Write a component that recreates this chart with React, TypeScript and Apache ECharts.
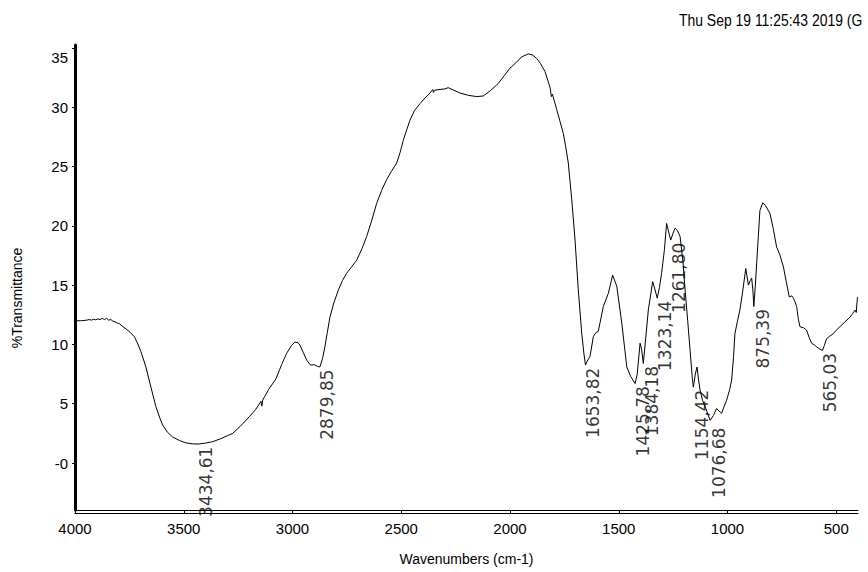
import React, { useEffect, useRef } from "react";
import * as echarts from "echarts";

// Spectrum trace (wavenumber, %T)
const wavenumbers = [
  4000, 3970, 3945, 3935, 3925, 3915, 3905, 3895, 3885, 3875, 3865, 3855, 3845, 3835, 3825, 3815, 3805,
  3796, 3780, 3765, 3745, 3727, 3715, 3697, 3674, 3651, 3628, 3610, 3597, 3575, 3551, 3520, 3490, 3460,
  3434, 3400, 3367, 3330, 3300, 3275, 3240, 3199, 3170, 3145, 3141, 3137, 3110, 3076, 3050, 3027, 3005,
  2989, 2975, 2966, 2950, 2935, 2920, 2912, 2900, 2885, 2874, 2862, 2851, 2840, 2828, 2810, 2789, 2770,
  2751, 2730, 2705, 2680, 2659, 2635, 2613, 2590, 2567, 2545, 2521, 2505, 2491, 2475, 2460, 2440, 2414,
  2390, 2368, 2355, 2352, 2345, 2322, 2300, 2284, 2260, 2230, 2190, 2153, 2123, 2090, 2054, 2025, 2000,
  1970, 1946, 1916, 1895, 1877, 1860, 1839, 1825, 1815, 1810, 1805, 1785, 1770, 1755, 1745, 1732, 1716,
  1701, 1686, 1670, 1660, 1653, 1645, 1632, 1617, 1605, 1594, 1571, 1548, 1528, 1509, 1486, 1463, 1445,
  1425, 1415, 1410, 1402, 1395, 1387, 1364, 1344, 1333, 1323, 1313, 1303, 1290, 1280, 1272, 1261, 1250,
  1241, 1230, 1218, 1205, 1195, 1183, 1172, 1162, 1157, 1148, 1140, 1133, 1126, 1115, 1103, 1090, 1080,
  1065, 1050, 1040, 1027, 1015, 1004, 990, 981, 972, 966, 955, 943, 930, 916, 904, 895, 889, 883, 879,
  872, 866, 858, 851, 838, 825, 805, 790, 774, 760, 743, 730, 716, 705, 697, 690, 682, 675, 667, 650,
  636, 625, 613, 600, 590, 575, 563, 555, 544, 530, 514, 500, 483, 460, 437, 425, 414, 408, 403, 400,
];
const transmittance = [
  12.0, 12.0, 12.05, 12.1, 12.05, 12.12, 12.08, 12.15, 12.1, 12.2, 12.1, 12.2, 12.05, 12.1, 11.95, 11.9, 11.8,
  11.75, 11.5, 11.3, 11.0, 10.65, 10.2, 9.4, 8.1, 6.4, 4.75, 3.8, 3.2, 2.6, 2.2, 1.9, 1.7, 1.62,
  1.6, 1.68, 1.8, 2.05, 2.3, 2.5, 3.1, 3.9, 4.5, 5.2, 4.8, 5.3, 6.2, 7.1, 8.3, 9.25, 9.9,
  10.2, 10.15, 9.95, 9.3, 8.7, 8.3, 8.26, 8.3, 8.15, 8.1, 8.8, 9.8, 11.0, 12.3, 13.5, 14.6, 15.4,
  16.0, 16.5, 17.1, 18.1, 19.1, 20.5, 21.9, 23.0, 23.9, 24.6, 25.3, 26.2, 27.2, 28.1, 28.9, 29.7, 30.3,
  30.8, 31.2, 31.5, 31.25, 31.45, 31.5, 31.55, 31.65, 31.45, 31.2, 31.0, 30.9, 30.95, 31.4, 32.0, 32.7, 33.3,
  33.8, 34.25, 34.5, 34.4, 34.1, 33.7, 33.0, 32.2, 31.6, 30.9, 31.1, 29.8, 28.8, 27.8, 26.8, 25.3, 22.2,
  18.8, 14.6, 10.9, 9.2, 8.26, 8.6, 9.0, 10.65, 11.0, 11.1, 13.2, 14.3, 15.85, 14.9, 11.8, 8.1, 7.3,
  6.7, 7.5, 8.5, 10.1, 9.6, 8.4, 12.9, 15.3, 14.6, 13.9, 14.8, 16.0, 18.0, 20.2, 19.6, 18.8, 19.4,
  19.8, 19.6, 19.1, 17.0, 14.6, 12.0, 9.5, 7.2, 6.4, 7.5, 8.1, 7.0, 6.15, 5.3, 4.75, 4.1, 3.6,
  4.0, 4.6, 4.4, 4.2, 4.8, 5.3, 6.2, 7.0, 9.0, 10.9, 11.9, 12.9, 14.5, 16.4, 15.0, 15.4, 15.6, 14.5, 13.2,
  15.0, 16.8, 19.2, 21.3, 21.95, 21.7, 21.05, 19.8, 18.2, 17.6, 16.55, 15.3, 14.0, 14.1, 13.9, 13.6, 13.2, 12.2, 11.5, 11.4,
  11.2, 10.6, 10.1, 9.95, 9.8, 9.6, 9.5, 9.9, 10.5, 10.7, 10.9, 11.2, 11.5, 11.9, 12.3, 12.6, 12.9, 12.7, 13.9, 14.0,
];

// Peak annotations
const peakLabels = ["3434,61", "2879,85", "1653,82", "1425,78", "1384,18", "1323,14", "1261,80", "1154,42", "1076,68", "875,39", "565,03"];
const peakWavenumbers = [3434.61, 2879.85, 1653.82, 1425.78, 1384.18, 1323.14, 1261.8, 1154.42, 1076.68, 875.39, 565.03];
const peakTransmittance = [1.6, 8.1, 8.26, 6.7, 8.4, 13.9, 18.8, 6.4, 3.2, 13.2, 9.5];

// Axis ticks
const xTicks = [4000, 3500, 3000, 2500, 2000, 1500, 1000, 500];
const yTicks = [0, 5, 10, 15, 20, 25, 30, 35];

const titleText = "Thu Sep 19 11:25:43 2019 (G";
const xName = "Wavenumbers (cm-1)";
const yName = "%Transmittance";

const SANS = "'Liberation Sans', Arial, sans-serif";

export default function App() {
  const ref = useRef<HTMLDivElement>(null);
  useEffect(() => {
    if (!ref.current) return;
    const chart = echarts.init(ref.current, undefined, { renderer: "svg" });
    const lineData = wavenumbers.map((w, i) => [w, transmittance[i]]);
    const peakData = peakWavenumbers.map((w, i) => ({ value: [w, peakTransmittance[i]], name: peakLabels[i] }));
    chart.setOption({
      animation: false,
      backgroundColor: "#ffffff",
      grid: { left: 75, right: 10, top: 45, bottom: 62, containLabel: false },
      xAxis: [
        {
          type: "value",
          min: 400,
          max: 4000,
          inverse: true,
          position: "bottom",
          name: xName,
          nameLocation: "middle",
          nameGap: 42,
          nameTextStyle: { fontFamily: SANS, fontSize: 14, color: "#000" },
          axisLine: { show: true, onZero: false, lineStyle: { color: "#000", width: 1.2 } },
          axisTick: { show: true, inside: false, length: 4, customValues: xTicks, lineStyle: { color: "#000", width: 1 } },
          axisLabel: {
            customValues: xTicks,
            margin: 11,
            fontFamily: SANS,
            fontSize: 15,
            color: "#000",
            formatter: (v: number) => String(v),
          },
          splitLine: { show: false },
        },
        {
          type: "value",
          min: 400,
          max: 4000,
          inverse: true,
          position: "bottom",
          offset: 3,
          axisLine: { show: true, onZero: false, lineStyle: { color: "#000", width: 1.2 } },
          axisTick: { show: false },
          axisLabel: { show: false },
          splitLine: { show: false },
        },
      ],
      yAxis: {
        type: "value",
        min: -3.96,
        max: 35.25,
        axisLine: { show: true, onZero: false, lineStyle: { color: "#000", width: 3 } },
        axisTick: { show: true, length: 3, customValues: yTicks, lineStyle: { color: "#000", width: 1 } },
        axisLabel: {
          customValues: yTicks,
          margin: 7,
          fontFamily: SANS,
          fontSize: 15,
          color: "#000",
          formatter: (v: number) => (v === 0 ? "-0" : v === 35 ? "{low|35}" : String(v)),
          rich: {
            low: { fontFamily: SANS, fontSize: 15, color: "#000", padding: [20, 0, 0, 0] },
          },
        },
        splitLine: { show: false },
      },
      graphic: [
        {
          type: "text",
          x: 679,
          y: 20,
          scaleX: 0.82,
          style: { text: titleText, font: `17px ${SANS}`, fill: "#000", align: "left", verticalAlign: "middle", textAlign: "left", textVerticalAlign: "middle" },
        },
        {
          type: "text",
          x: 17,
          y: 298,
          rotation: Math.PI / 2,
          style: { text: yName, font: `14px ${SANS}`, fill: "#000", align: "center", verticalAlign: "middle", textAlign: "center", textVerticalAlign: "middle" },
        },
      ],
      series: [
        {
          type: "line",
          data: lineData,
          showSymbol: false,
          symbol: "none",
          clip: true,
          lineStyle: { color: "#000", width: 1 },
          z: 2,
        },
        {
          type: "scatter",
          data: peakData,
          symbolSize: 1,
          itemStyle: { color: "rgba(0,0,0,0)" },
          clip: false,
          label: {
            show: true,
            formatter: (p: any) => p.name,
            position: [0, 3],
            rotate: 90,
            align: "right",
            verticalAlign: "top",
            fontFamily: "'DejaVu Sans', sans-serif",
            fontSize: 17,
            color: "#000",
          },
          z: 3,
        },
      ],
    });
    return () => chart.dispose();
  }, []);
  return <div ref={ref} style={{ position: "absolute", left: 0, top: 0, width: 868, height: 572 }} />;
}
